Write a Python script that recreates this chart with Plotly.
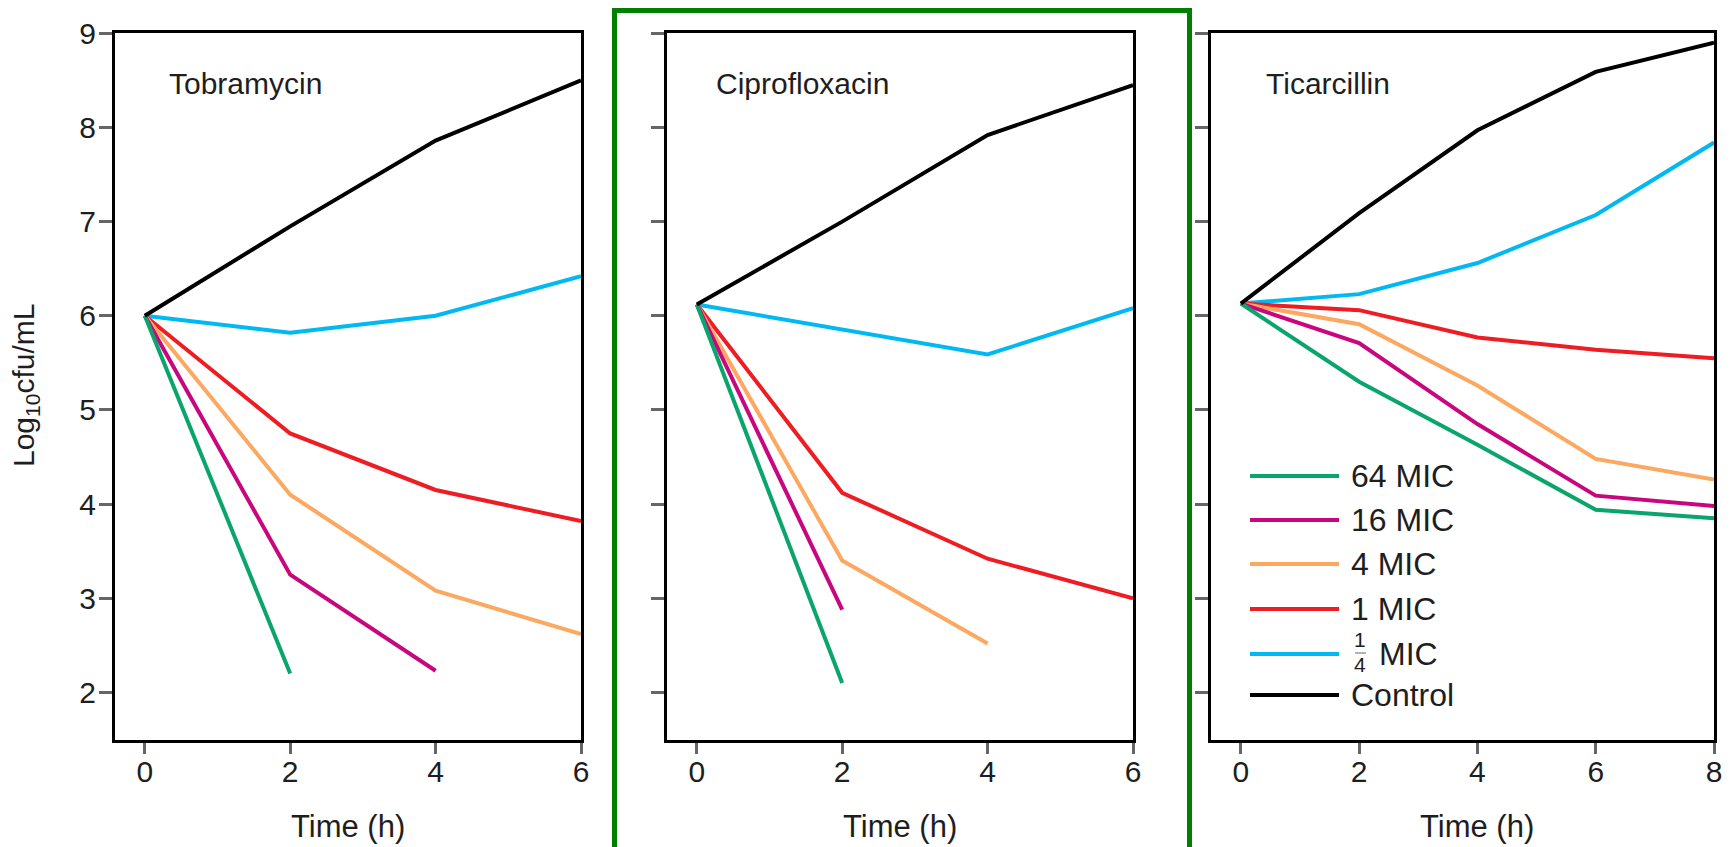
import plotly.graph_objects as go

# ---------------- data ----------------
panel_titles = ["Tobramycin", "Ciprofloxacin", "Ticarcillin"]
series_names = ["64 MIC", "16 MIC", "4 MIC", "1 MIC", "¼ MIC", "Control"]
series_colors = ["#0aa56c", "#c8077f", "#fca861", "#ee1d23", "#00b9f2", "#000000"]

time_tobra = [0, 2, 4, 6]
tobra_64mic = [6.0, 2.2]
tobra_16mic = [6.0, 3.25, 2.23]
tobra_4mic = [6.0, 4.1, 3.08, 2.62]
tobra_1mic = [6.0, 4.75, 4.15, 3.82]
tobra_quarter = [6.0, 5.82, 6.0, 6.42]
tobra_control = [6.0, 6.95, 7.86, 8.5]

time_cipro = [0, 2, 4, 6]
cipro_64mic = [6.12, 2.1]
cipro_16mic = [6.12, 2.88]
cipro_4mic = [6.12, 3.4, 2.52]
cipro_1mic = [6.12, 4.12, 3.42, 3.0]
cipro_quarter = [6.12, 5.85, 5.59, 6.08]
cipro_control = [6.12, 7.0, 7.92, 8.45]

time_ticar = [0, 2, 4, 6, 8]
ticar_64mic = [6.13, 5.3, 4.63, 3.94, 3.85]
ticar_16mic = [6.13, 5.71, 4.85, 4.09, 3.98]
ticar_4mic = [6.13, 5.91, 5.26, 4.48, 4.26]
ticar_1mic = [6.13, 6.06, 5.77, 5.64, 5.55]
ticar_quarter = [6.13, 6.23, 6.56, 7.07, 7.84]
ticar_control = [6.13, 7.09, 7.97, 8.59, 8.9]

y_ticks = [2, 3, 4, 5, 6, 7, 8, 9]
x_ticks_6 = [0, 2, 4, 6]
x_ticks_8 = [0, 2, 4, 6, 8]

panels = [
    (time_tobra, [tobra_64mic, tobra_16mic, tobra_4mic, tobra_1mic, tobra_quarter, tobra_control]),
    (time_cipro, [cipro_64mic, cipro_16mic, cipro_4mic, cipro_1mic, cipro_quarter, cipro_control]),
    (time_ticar, [ticar_64mic, ticar_16mic, ticar_4mic, ticar_1mic, ticar_quarter, ticar_control]),
]

# ---------------- layout geometry ----------------
W, H = 1734, 847
FONT = "Liberation Sans, Arial, Helvetica, sans-serif"
TXT = "#1e1e1e"
x_px = [(115, 581), (667, 1133), (1211, 1714)]
x_domains = [[a / W, b / W] for a, b in x_px]
y_domain = [1 - 739.5 / H, 1 - 33.3 / H]
x_ranges = [[-0.41, 6.0], [-0.41, 6.0], [-0.505, 8.0]]
x_tickvals = [x_ticks_6, x_ticks_6, x_ticks_8]

fig = go.Figure()

draw_order = [4, 3, 2, 1, 0, 5]
for p, (t, series) in enumerate(panels):
    xa = "x" if p == 0 else f"x{p+1}"
    ya = "y" if p == 0 else f"y{p+1}"
    for i in draw_order:
        vals = series[i]
        fig.add_trace(go.Scatter(
            x=t[:len(vals)], y=vals, mode="lines", name=series_names[i],
            line=dict(color=series_colors[i], width=4),
            xaxis=xa, yaxis=ya, showlegend=False, cliponaxis=True,
        ))

axis_common = dict(
    showline=True, linecolor="black", linewidth=3, mirror=True,
    ticks="outside", tickwidth=2.5, tickcolor="#666666",
    showgrid=False, zeroline=False, automargin=False,
    tickfont=dict(family=FONT, size=30, color=TXT),
)

layout = dict(
    width=W, height=H, margin=dict(l=0, r=0, t=0, b=0),
    paper_bgcolor="white", plot_bgcolor="white", showlegend=False,
    font=dict(family=FONT, color=TXT),
)
for p in range(3):
    xk = "xaxis" if p == 0 else f"xaxis{p+1}"
    yk = "yaxis" if p == 0 else f"yaxis{p+1}"
    layout[xk] = dict(axis_common, domain=x_domains[p], range=x_ranges[p], ticklen=11,
                      ticklabelstandoff=-8,
                      tickvals=x_tickvals[p], anchor="y" if p == 0 else f"y{p+1}")
    layout[yk] = dict(axis_common, domain=y_domain, range=[1.5, 9], tickvals=y_ticks, ticklen=13,
                      ticklabelstandoff=-3,
                      anchor="x" if p == 0 else f"x{p+1}",
                      showticklabels=(p == 0))
fig.update_layout(**layout)

# axis titles
time_title_x = [348, 900, 1477]
for p in range(3):
    fig.add_annotation(x=time_title_x[p] / W, y=1 - 826 / H, xref="paper", yref="paper",
                       text="Time (h)", showarrow=False, xanchor="center", yanchor="middle",
                       font=dict(family=FONT, size=31, color=TXT))
fig.add_annotation(x=25 / W, y=1 - 386 / H, xref="paper", yref="paper",
                   text="Log<sub>10</sub>cfu/mL", showarrow=False, textangle=-90,
                   xanchor="center", yanchor="middle",
                   font=dict(family=FONT, size=30, color=TXT))

# panel titles
title_x = [167, 714, 1264]
for p in range(3):
    fig.add_annotation(x=title_x[p] / W, y=1 - 83 / H, xref="paper", yref="paper",
                       text=panel_titles[p], showarrow=False, xanchor="left", yanchor="middle",
                       font=dict(family=FONT, size=30, color=TXT))

# green highlight frame around middle panel
fig.add_shape(type="rect", xref="paper", yref="paper",
              x0=614.5 / W, x1=1189.5 / W, y0=-0.05, y1=1 - 10.5 / H,
              line=dict(color="#008000", width=5), fillcolor="rgba(0,0,0,0)", layer="below")

# manual legend inside third panel
leg_y = [476, 520, 564, 609, 654, 695]
for i, name in enumerate(series_names):
    yy = 1 - leg_y[i] / H
    fig.add_shape(type="line", xref="paper", yref="paper",
                  x0=1250 / W, x1=1339 / W, y0=yy, y1=yy,
                  line=dict(color=series_colors[i], width=4))
    if name.startswith("¼"):
        fig.add_annotation(x=1360 / W, y=1 - 639 / H, xref="paper", yref="paper",
                           text="1", showarrow=False, xanchor="center", yanchor="middle",
                           font=dict(family=FONT, size=21, color=TXT))
        fig.add_annotation(x=1360 / W, y=1 - 664 / H, xref="paper", yref="paper",
                           text="4", showarrow=False, xanchor="center", yanchor="middle",
                           font=dict(family=FONT, size=21, color=TXT))
        fig.add_shape(type="line", xref="paper", yref="paper",
                      x0=1355 / W, x1=1366 / W, y0=1 - 653 / H, y1=1 - 653 / H,
                      line=dict(color="#999999", width=1.5))
        fig.add_annotation(x=1377 / W, y=yy, xref="paper", yref="paper",
                           text=name[2:], showarrow=False, xanchor="left", yanchor="middle",
                           font=dict(family=FONT, size=32, color=TXT))
    else:
        fig.add_annotation(x=1349 / W, y=yy, xref="paper", yref="paper",
                           text=name, showarrow=False, xanchor="left", yanchor="middle",
                           font=dict(family=FONT, size=32, color=TXT))

fig.write_html("out.html")
